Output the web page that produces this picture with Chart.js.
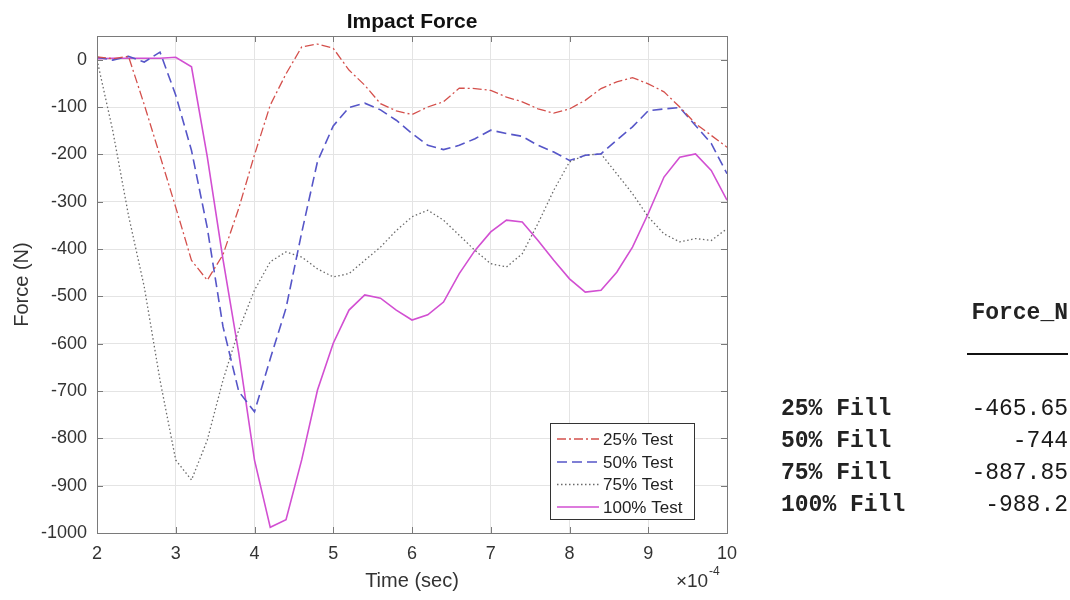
<!DOCTYPE html>
<html><head><meta charset="utf-8">
<script src="https://cdn.jsdelivr.net/npm/chart.js@4.4.1/dist/chart.umd.min.js"></script>
<style>
html,body{margin:0;padding:0;background:#fff;}
#wrap{position:relative;width:1070px;height:600px;overflow:hidden;background:#fff;}
#c{position:absolute;left:0;top:0;}
.t{position:absolute;font-family:"Liberation Mono","DejaVu Sans Mono",monospace;font-size:23px;color:#1a1a1a;white-space:pre;line-height:32px;height:32px;}
.b{font-weight:bold;color:#222;}
#uline{position:absolute;left:967px;top:353px;width:101px;height:0;border-top:2px solid #111;}
</style></head><body>
<div id="wrap"><canvas id="c" width="1070" height="600"></canvas><div id="tbl"></div><div id="uline"></div></div>
<script>
// time in units of 1e-4 s
const timeE4 = [2.0,2.2,2.4,2.6,2.8,3.0,3.2,3.4,3.6,3.8,4.0,4.2,4.4,4.6,4.8,5.0,5.2,5.4,5.6,5.8,6.0,6.2,6.4,6.6,6.8,7.0,7.2,7.4,7.6,7.8,8.0,8.2,8.4,8.6,8.8,9.0,9.2,9.4,9.6,9.8,10.0];
const force25 = [6,2,7,-95,-203,-312,-424,-466,-412,-314,-201,-96,-30,27,33,24,-22,-54,-93,-108,-116,-100,-89,-60,-61,-65,-79,-89,-104,-113,-104,-86,-61,-47,-38,-51,-68,-100,-135,-160,-185];
const force50 = [5,-1,7,-5,16,-75,-192,-355,-564,-701,-744,-632,-525,-365,-215,-140,-101,-92,-106,-128,-156,-181,-190,-181,-167,-149,-156,-162,-181,-195,-213,-202,-199,-170,-142,-108,-104,-101,-139,-177,-241];
const force75 = [0,-150,-329,-480,-677,-846,-888,-804,-677,-571,-487,-427,-406,-417,-442,-459,-452,-424,-396,-361,-332,-318,-339,-371,-403,-431,-438,-410,-346,-276,-216,-202,-199,-241,-283,-332,-368,-385,-378,-382,-357];
const force100 = [2,3,3,3,3,5,-15,-205,-422,-620,-846,-988,-972,-845,-698,-599,-529,-497,-504,-529,-550,-539,-512,-452,-403,-364,-339,-343,-382,-424,-463,-491,-487,-449,-396,-325,-248,-206,-199,-234,-297];
const seriesLabels = ['25% Test','50% Test','75% Test','100% Test'];
const xTickValues = [2,3,4,5,6,7,8,9,10];
const yTickStep = 100;
const tableHeader = 'Force_N';
const tableRows = ['25% Fill','50% Fill','75% Fill','100% Fill'];
const peakForce = ['-465.65','-744','-887.85','-988.2'];

const FONT = '"Liberation Sans", Arial, Helvetica, sans-serif';
Chart.defaults.font.family = FONT;

function pts(arr){ return arr.map((v,i)=>({x:timeE4[i], y:v})); }

const styles = [
  {color:'#d4504c', dash:[9,3,2,3], width:1.3},
  {color:'#5656c8', dash:[10,5], width:1.6},
  {color:'#6a6a6a', dash:[1.5,2.5], width:1.3},
  {color:'#d24fd2', dash:[], width:1.6}
];
const seriesData = [force25, force50, force75, force100];

const datasets = seriesData.map((d,i)=>({
  label: seriesLabels[i],
  data: pts(d),
  borderColor: styles[i].color,
  borderDash: styles[i].dash,
  borderWidth: styles[i].width,
  pointRadius: 0,
  tension: 0,
  fill: false
}));

const decor = {
  id: 'decor',
  afterDatasetsDraw(chart){
    const ctx = chart.ctx, a = chart.chartArea;
    const xs = chart.scales.x, ys = chart.scales.y;
    ctx.save();
    // frame
    ctx.strokeStyle = '#7a7a7a'; ctx.lineWidth = 1; ctx.setLineDash([]);
    ctx.strokeRect(Math.round(a.left)+0.5, Math.round(a.top)+0.5, Math.round(a.right-a.left), Math.round(a.bottom-a.top));
    // inner ticks
    ctx.beginPath();
    xTickValues.forEach(v=>{
      const px = Math.round(xs.getPixelForValue(v))+0.5;
      ctx.moveTo(px, a.bottom); ctx.lineTo(px, a.bottom-6);
      ctx.moveTo(px, a.top); ctx.lineTo(px, a.top+6);
    });
    ys.ticks.forEach(t=>{
      const py = Math.round(ys.getPixelForValue(t.value))+0.5;
      ctx.moveTo(a.left, py); ctx.lineTo(a.left+6, py);
      ctx.moveTo(a.right, py); ctx.lineTo(a.right-6, py);
    });
    ctx.stroke();
    // legend
    const lx = 550.5, ly = 423.5, lw = 144, lh = 96;
    ctx.fillStyle = '#fff';
    ctx.fillRect(lx, ly, lw, lh);
    ctx.strokeStyle = '#333'; ctx.lineWidth = 1;
    ctx.strokeRect(lx, ly, lw, lh);
    const rows = [439, 462, 484.5, 507];
    chart.data.datasets.forEach((ds,i)=>{
      const y = rows[i];
      ctx.beginPath();
      ctx.strokeStyle = ds.borderColor; ctx.lineWidth = ds.borderWidth;
      ctx.setLineDash(ds.borderDash);
      ctx.moveTo(557, y); ctx.lineTo(599, y); ctx.stroke();
      ctx.setLineDash([]);
      ctx.fillStyle = '#222';
      ctx.font = '17px ' + FONT;
      ctx.textBaseline = 'middle'; ctx.textAlign = 'left';
      ctx.fillText(ds.label, 603, y+1);
    });
    // title
    ctx.fillStyle = '#111';
    ctx.font = 'bold 21px ' + FONT;
    ctx.textAlign = 'center'; ctx.textBaseline = 'alphabetic';
    ctx.fillText('Impact Force', (a.left+a.right)/2, 28);
    // exponent
    ctx.fillStyle = '#333';
    ctx.font = '19px ' + FONT;
    ctx.textAlign = 'left';
    ctx.fillText('\u00d7', 676, 587);
    ctx.fillText('10', 687, 587);
    ctx.font = '12px ' + FONT;
    ctx.fillText('-4', 709, 575);
    ctx.restore();
  }
};

new Chart(document.getElementById('c'), {
  type: 'line',
  data: { datasets },
  options: {
    responsive: false,
    animation: false,
    layout: { padding: { top: 36, right: 343, bottom: 0, left: 0 } },
    plugins: { legend: { display: false }, title: { display: false }, tooltip: { enabled: false } },
    scales: {
      x: {
        type: 'linear', min: 2, max: 10,
        afterFit(s){ s.height = 67; },
        afterBuildTicks(s){ s.ticks = xTickValues.map(v=>({value:v})); },
        ticks: { stepSize: 1, padding: 10, color: '#333', font: { size: 18 }, maxRotation: 0, autoSkip: false,
                 callback: v => String(v) },
        grid: { color: '#e4e4e4', lineWidth: 1, drawTicks: false },
        border: { display: false },
        title: { display: true, text: 'Time (sec)', color: '#333', font: { size: 20 }, padding: { top: 0, bottom: 7 } }
      },
      y: {
        type: 'linear', min: -1000, max: 50,
        afterFit(s){ s.width = 97; },
        afterBuildTicks(s){ s.ticks = s.ticks.filter(t => Math.abs(t.value % yTickStep) < 1e-6); },
        ticks: { stepSize: yTickStep, padding: 10, color: '#333', font: { size: 18 },
                 callback: v => String(Math.round(v)) },
        grid: { color: '#e4e4e4', lineWidth: 1, drawTicks: false },
        border: { display: false },
        title: { display: true, text: 'Force (N)', color: '#333', font: { size: 20 }, padding: { top: 10, bottom: 0 } }
      }
    }
  },
  plugins: [decor]
});

// table of peak forces
(function(){
  const tbl = document.getElementById('tbl');
  function add(text, cls, left, right, centerY){
    const d = document.createElement('div');
    d.className = 't ' + cls;
    d.textContent = text;
    d.style.top = (centerY - 14.5) + 'px';
    if (right !== null) { d.style.right = (1070 - right) + 'px'; }
    else d.style.left = left + 'px';
    tbl.appendChild(d);
  }
  add(tableHeader, 'b', null, 1068, 311);
  const rowY = [407, 439, 471, 503];
  tableRows.forEach((r,i)=>{
    add(r, 'b', 781, null, rowY[i]);
    add(peakForce[i], '', null, 1068, rowY[i]);
  });
})();
</script>
</body></html>
